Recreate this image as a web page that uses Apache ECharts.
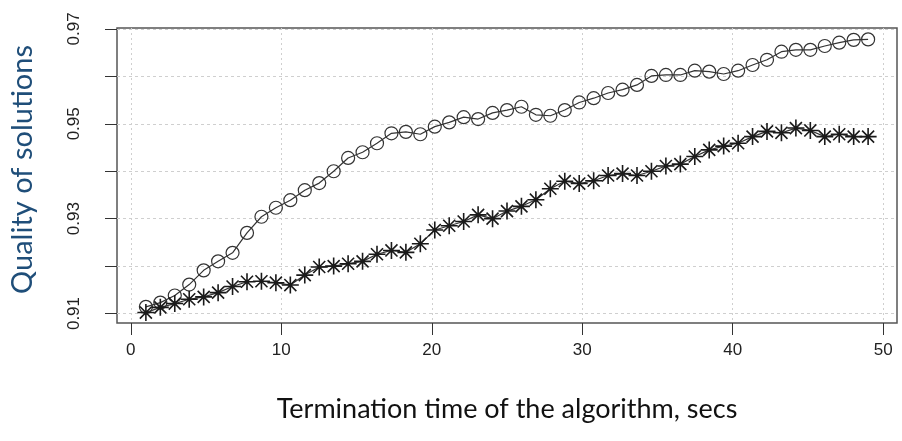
<!DOCTYPE html>
<html><head><meta charset="utf-8">
<script src="https://cdn.jsdelivr.net/npm/echarts@6/dist/echarts.min.js"></script>
<style>html,body{margin:0;padding:0;background:#fff}#c{width:902px;height:441px}</style>
</head><body><div id="c"></div>
<script>
const times = [1, 1.96, 2.92, 3.88, 4.84, 5.8, 6.76, 7.72, 8.68, 9.64, 10.6, 11.56, 12.52, 13.48, 14.44, 15.4, 16.36, 17.32, 18.28, 19.24, 20.2, 21.16, 22.12, 23.08, 24.04, 25, 25.96, 26.92, 27.88, 28.84, 29.8, 30.76, 31.72, 32.68, 33.64, 34.6, 35.56, 36.52, 37.48, 38.44, 39.4, 40.36, 41.32, 42.28, 43.24, 44.2, 45.16, 46.12, 47.08, 48.04, 49];
const qualityCircle = [0.9114, 0.9123, 0.9138, 0.9161, 0.9191, 0.9210, 0.9228, 0.9270, 0.9304, 0.9323, 0.9339, 0.9360, 0.9375, 0.9400, 0.9428, 0.9440, 0.9459, 0.9480, 0.9483, 0.9478, 0.9494, 0.9503, 0.9514, 0.9510, 0.9523, 0.9529, 0.9536, 0.9519, 0.9517, 0.9529, 0.9545, 0.9554, 0.9565, 0.9572, 0.9582, 0.9601, 0.9603, 0.9603, 0.9612, 0.9610, 0.9605, 0.9612, 0.9624, 0.9635, 0.9652, 0.9656, 0.9656, 0.9664, 0.9671, 0.9677, 0.9678];
const qualityStar = [0.9102, 0.9113, 0.9121, 0.9130, 0.9135, 0.9144, 0.9157, 0.9167, 0.9168, 0.9165, 0.9160, 0.9181, 0.9198, 0.9200, 0.9205, 0.9210, 0.9225, 0.9233, 0.9229, 0.9247, 0.9276, 0.9285, 0.9294, 0.9308, 0.9300, 0.9316, 0.9326, 0.9340, 0.9363, 0.9379, 0.9374, 0.9380, 0.9391, 0.9395, 0.9391, 0.9400, 0.9411, 0.9415, 0.9431, 0.9445, 0.9453, 0.9459, 0.9473, 0.9484, 0.9481, 0.9491, 0.9486, 0.9473, 0.9478, 0.9473, 0.9473];
const xTicks = [0, 10, 20, 30, 40, 50];
const yTicks = [0.91, 0.92, 0.93, 0.94, 0.95, 0.96, 0.97];
const yLabels = [0.91, 0.93, 0.95, 0.97];
const xTitle = 'Termination time of the algorithm, secs';
const yTitle = 'Quality of solutions';

const starPath = 'path://M10,0L10,20M0,10L20,10M2.93,2.93L17.07,17.07M2.93,17.07L17.07,2.93';
const chart = echarts.init(document.getElementById('c'), null, {renderer: 'canvas'});
chart.setOption({
  animation: false,
  backgroundColor: '#fff',
  grid: {left: 117, right: 5, top: 28, bottom: 118, show: true, borderColor: '#555', borderWidth: 1.5,
    containLabel: false, outerBoundsMode: 'none'},
  xAxis: {
    type: 'value', min: -0.92, max: 50.92,
    name: xTitle, nameLocation: 'middle', nameGap: 73,
    nameTextStyle: {fontFamily: 'Lato', fontSize: 27, color: '#111'},
    axisLine: {show: false, onZero: false},
    axisTick: {show: true, inside: false, customValues: xTicks, length: 12, lineStyle: {color: '#333', width: 1}},
    axisLabel: {customValues: xTicks, margin: 19, fontFamily: 'Liberation Sans', fontSize: 17, color: '#222'},
    splitLine: {show: true, lineStyle: {color: '#cfcfcf', type: [2, 3], width: 1}}
  },
  yAxis: {
    type: 'value', min: 0.9080, max: 0.9702,
    name: yTitle, nameLocation: 'middle', nameGap: 80,
    nameTextStyle: {fontFamily: 'Lato', fontSize: 29, color: '#1f4e79', padding: [0, 0, 0, 12]},
    axisLine: {show: false, onZero: false},
    axisTick: {show: true, inside: false, customValues: yTicks, length: 12, lineStyle: {color: '#333', width: 1}},
    axisLabel: {customValues: yLabels, rotate: 90, margin: 34, fontFamily: 'Liberation Sans', fontSize: 17, color: '#222',
      formatter: v => v.toFixed(2)},
    splitLine: {show: true, lineStyle: {color: '#cfcfcf', type: [3, 3], width: 1}}
  },
  series: [
    {
      type: 'line', data: times.map((t, i) => [t, qualityCircle[i]]),
      symbol: 'circle', symbolSize: 13, showAllSymbol: true,
      itemStyle: {color: 'rgba(0,0,0,0)', borderColor: '#333', borderWidth: 1.2},
      lineStyle: {color: '#333', width: 1.2}
    },
    {
      type: 'line', data: times.map((t, i) => [t, qualityStar[i]]),
      symbol: starPath, symbolSize: 17, showAllSymbol: true,
      itemStyle: {color: 'rgba(0,0,0,0)', borderColor: '#1a1a1a', borderWidth: 1.6},
      lineStyle: {color: '#333', width: 1.2}
    }
  ]
});
</script>
</body></html>
